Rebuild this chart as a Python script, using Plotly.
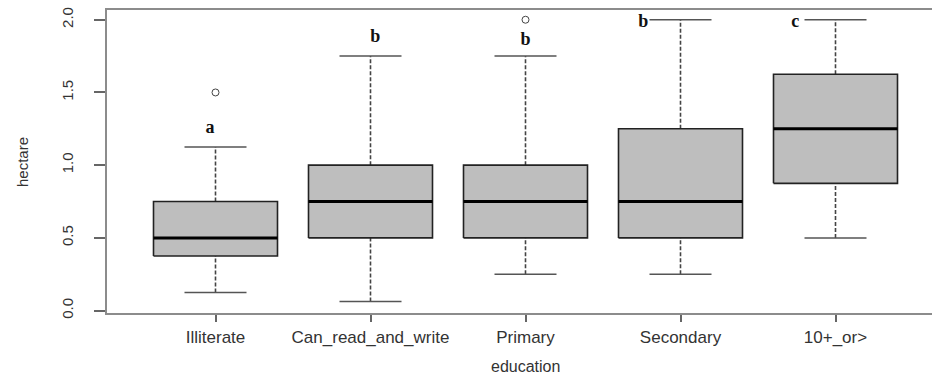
import plotly.graph_objects as go

# ---- data ----
categories = ["Illiterate", "Can_read_and_write", "Primary", "Secondary", "10+_or>"]
lower_whisker = [0.125, 0.0625, 0.25, 0.25, 0.5]
q1 = [0.375, 0.5, 0.5, 0.5, 0.875]
median = [0.5, 0.75, 0.75, 0.75, 1.25]
q3 = [0.75, 1.0, 1.0, 1.25, 1.625]
upper_whisker = [1.125, 1.75, 1.75, 2.0, 2.0]
outlier_group = [1, 3]
outlier_value = [1.5, 2.0]
letters = ["a", "b", "b", "b", "c"]

y_ticks = [0.0, 0.5, 1.0, 1.5, 2.0]

# ---- layout helpers (positions, not data) ----
letter_x = [0.965, 2.03, 3.0, 3.76, 4.74]
letter_y = [1.25, 1.88, 1.86, 1.98, 1.98]
half_box = 0.4
half_cap = 0.2

pos = list(range(1, len(categories) + 1))

# whiskers (dashed)
wx, wy = [], []
for p, lo, a, b, hi in zip(pos, lower_whisker, q1, q3, upper_whisker):
    wx += [p, p, None, p, p, None]
    wy += [lo, a, None, b, hi, None]

# caps
cx, cy = [], []
for p, lo, hi in zip(pos, lower_whisker, upper_whisker):
    cx += [p - half_cap, p + half_cap, None, p - half_cap, p + half_cap, None]
    cy += [lo, lo, None, hi, hi, None]

# boxes
bx, by = [], []
for p, a, b in zip(pos, q1, q3):
    bx += [p - half_box, p + half_box, p + half_box, p - half_box, p - half_box, None]
    by += [a, a, b, b, a, None]

# medians
mx, my = [], []
for p, m in zip(pos, median):
    mx += [p - half_box, p + half_box, None]
    my += [m, m, None]

fig = go.Figure()
fig.add_trace(go.Scatter(x=wx, y=wy, mode="lines",
                         line=dict(color="#444444", width=1.6, dash="4px,2px"),
                         hoverinfo="skip", showlegend=False))
fig.add_trace(go.Scatter(x=cx, y=cy, mode="lines",
                         line=dict(color="#555555", width=1.5),
                         hoverinfo="skip", showlegend=False))
fig.add_trace(go.Scatter(x=bx, y=by, mode="lines", fill="toself",
                         fillcolor="#BEBEBE",
                         line=dict(color="#222222", width=1.6),
                         hoverinfo="skip", showlegend=False))
fig.add_trace(go.Scatter(x=mx, y=my, mode="lines",
                         line=dict(color="#000000", width=3),
                         hoverinfo="skip", showlegend=False))
fig.add_trace(go.Scatter(x=outlier_group, y=outlier_value, mode="markers",
                         marker=dict(symbol="circle-open", size=7, color="#444444",
                                     line=dict(color="#444444", width=1)),
                         showlegend=False))
fig.add_trace(go.Scatter(x=letter_x, y=letter_y, mode="text", text=letters,
                         textfont=dict(family="Liberation Serif, Times New Roman, serif",
                                       size=18, color="#111111", weight="bold"),
                         textposition="middle center",
                         showlegend=False))

x_lo = 0.3
x_hi = 0.3 + 825 / 155

fig.update_layout(
    width=932, height=375,
    margin=dict(l=107, r=0, t=10, b=62),
    plot_bgcolor="white", paper_bgcolor="white",
    font=dict(family="Liberation Sans, Arial, sans-serif", size=16, color="#333333"),
    xaxis=dict(range=[x_lo, x_hi], tickvals=pos, ticktext=categories,
               showgrid=False, zeroline=False,
               showline=True, mirror=True, linecolor="#8c8c8c", linewidth=2,
               ticks="outside", ticklen=7, tickwidth=1.5, tickcolor="#666666",
               tickfont=dict(size=17, color="#333333"),
               ticklabelstandoff=1),
    yaxis=dict(range=[-0.0165, 2.067], tickvals=y_ticks,
               ticktext=[f"{v:.1f}" for v in y_ticks],
               showgrid=False, zeroline=False,
               showline=True, mirror=False, linecolor="#8c8c8c", linewidth=2,
               ticks="outside", ticklen=11, tickwidth=1.5, tickcolor="#666666",
               tickangle=-90, tickfont=dict(size=15, color="#333333"),
               ticklabelstandoff=15),
    annotations=[
        dict(text="education", xref="paper", yref="paper",
             x=(525 - 107) / 825, y=-(366 - 313) / 303,
             xanchor="center", yanchor="middle", showarrow=False,
             font=dict(size=16, color="#333333")),
        dict(text="hectare", xref="paper", yref="paper",
             x=-(107 - 22) / 825, y=(313 - 162) / 303,
             xanchor="center", yanchor="middle", showarrow=False, textangle=-90,
             font=dict(size=15, color="#333333")),
    ],
)

fig.write_html("out.html")
